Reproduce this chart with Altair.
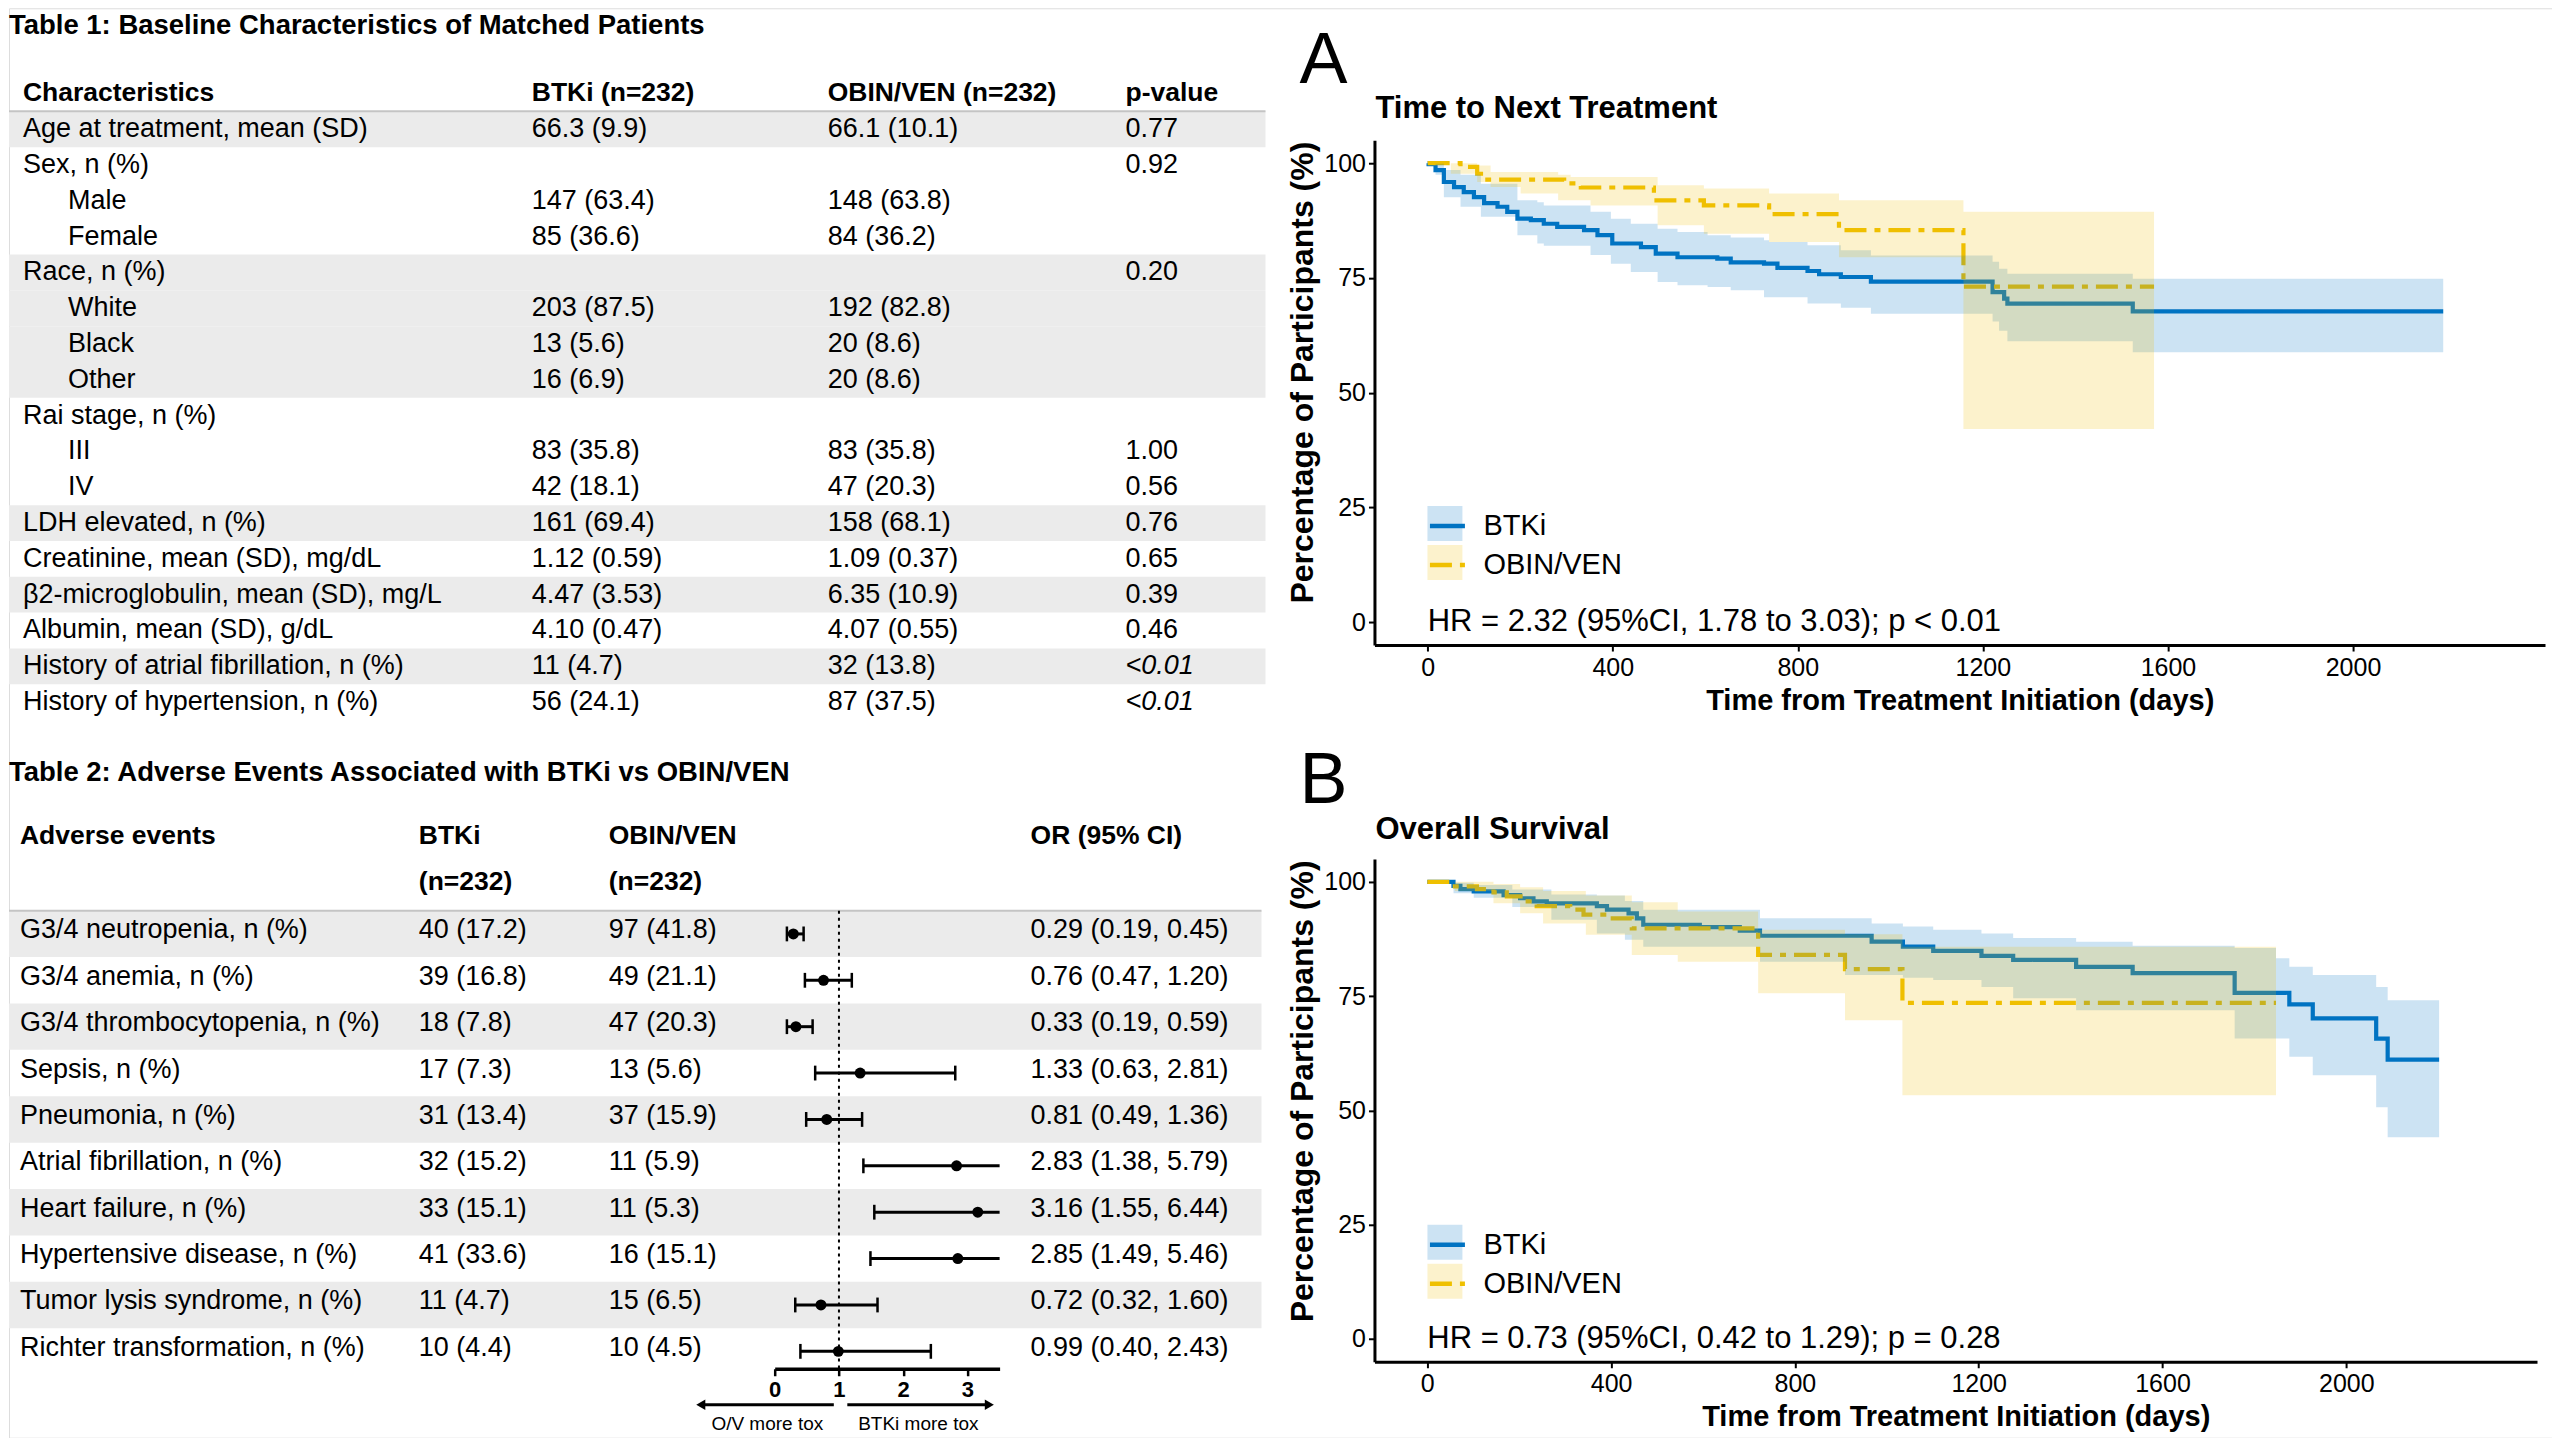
import altair as alt
import pandas as pd

FONT = "Liberation Sans, Arial, Helvetica, sans-serif"
BLUE = "#0073C2"
GOLD = "#EFC000"
SHADE = "#EBEBEB"
GROUPS = ["BTKi", "OBIN/VEN"]

# ---------------- Table 1 ----------------
t1_labels = ["Age at treatment, mean (SD)", "Sex, n (%)", "Male", "Female", "Race, n (%)",
             "White", "Black", "Other", "Rai stage, n (%)", "III", "IV", "LDH elevated, n (%)",
             "Creatinine, mean (SD), mg/dL", "β2-microglobulin, mean (SD), mg/L",
             "Albumin, mean (SD), g/dL", "History of atrial fibrillation, n (%)",
             "History of hypertension, n (%)"]
t1_indent = [0, 0, 1, 1, 0, 1, 1, 1, 0, 1, 1, 0, 0, 0, 0, 0, 0]
t1_btki = ["66.3 (9.9)", "", "147 (63.4)", "85 (36.6)", "", "203 (87.5)", "13 (5.6)", "16 (6.9)",
           "", "83 (35.8)", "42 (18.1)", "161 (69.4)", "1.12 (0.59)", "4.47 (3.53)", "4.10 (0.47)",
           "11 (4.7)", "56 (24.1)"]
t1_obin = ["66.1 (10.1)", "", "148 (63.8)", "84 (36.2)", "", "192 (82.8)", "20 (8.6)", "20 (8.6)",
           "", "83 (35.8)", "47 (20.3)", "158 (68.1)", "1.09 (0.37)", "6.35 (10.9)", "4.07 (0.55)",
           "32 (13.8)", "87 (37.5)"]
t1_p = ["0.77", "0.92", "", "", "0.20", "", "", "", "", "1.00", "0.56", "0.76", "0.65", "0.39",
        "0.46", "<0.01", "<0.01"]
t1_shaded = [1, 0, 0, 0, 1, 1, 1, 1, 0, 0, 0, 1, 0, 1, 0, 1, 0]

# ---------------- Table 2 ----------------
ae_labels = ["G3/4 neutropenia, n (%)", "G3/4 anemia, n (%)", "G3/4 thrombocytopenia, n (%)",
             "Sepsis, n (%)", "Pneumonia, n (%)", "Atrial fibrillation, n (%)",
             "Heart failure, n (%)", "Hypertensive disease, n (%)",
             "Tumor lysis syndrome, n (%)", "Richter transformation, n (%)"]
ae_btki = ["40 (17.2)", "39 (16.8)", "18 (7.8)", "17 (7.3)", "31 (13.4)", "32 (15.2)",
           "33 (15.1)", "41 (33.6)", "11 (4.7)", "10 (4.4)"]
ae_obin = ["97 (41.8)", "49 (21.1)", "47 (20.3)", "13 (5.6)", "37 (15.9)", "11 (5.9)",
           "11 (5.3)", "16 (15.1)", "15 (6.5)", "10 (4.5)"]
or_est = [0.29, 0.76, 0.33, 1.33, 0.81, 2.83, 3.16, 2.85, 0.72, 0.99]
or_lo = [0.19, 0.47, 0.19, 0.63, 0.49, 1.38, 1.55, 1.49, 0.32, 0.40]
or_hi = [0.45, 1.20, 0.59, 2.81, 1.36, 5.79, 6.44, 5.46, 1.60, 2.43]
ae_shaded = [1, 0, 1, 0, 1, 0, 1, 0, 1, 0]
forest_ticks = [0, 1, 2, 3]

# ---------------- KM: Time to next treatment ----------------
A_btki_t = [0, 2, 17, 35, 57, 78, 100, 122, 151, 172, 194, 223, 251, 280, 338, 367, 399, 461, 493,
            540, 626, 655, 727, 756, 821, 846, 893, 958, 1221, 1246, 1253, 1524, 2195]
A_btki_s = [100, 99.8, 98.5, 95.9, 94.8, 93.7, 92.6, 91.3, 90.5, 89.4, 87.9, 87.6, 86.8, 86.1,
            85.4, 84.3, 82.5, 81.7, 80.3, 79.5, 79.2, 78.4, 78.1, 77.2, 76.5, 75.8, 75.2, 74.2,
            71.9, 70.5, 69.4, 67.7, 67.7]
A_btki_bt = [0, 17, 35, 71, 115, 194, 237, 251, 352, 396, 439, 497, 540, 605, 655, 727, 738, 821,
             893, 958, 1221, 1235, 1253, 1524, 2195]
A_btki_lo = [100, 97.5, 92.6, 90.5, 88.3, 84.3, 82.5, 82.0, 80.0, 78.1, 76.3, 74.1, 73.4, 73.0,
             72.3, 70.8, 70.8, 69.4, 68.5, 67.2, 65.5, 63.5, 61.2, 58.8, 58.8]
A_btki_hi = [100, 99.9, 98.5, 97.5, 95.5, 91.9, 91.5, 90.8, 89.4, 87.9, 86.8, 85.7, 85.0, 84.3,
             83.8, 83.2, 82.8, 82.1, 81.0, 79.9, 78.5, 77.0, 75.9, 74.8, 74.8]
A_obin_t = [0, 71, 107, 129, 295, 331, 489, 597, 738, 889, 1158, 1570]
A_obin_s = [100, 99.2, 97.7, 96.4, 95.6, 94.7, 91.9, 90.8, 88.9, 85.4, 73.1, 73.1]
A_obin_bt = [0, 50, 107, 136, 201, 282, 309, 352, 497, 597, 738, 889, 1158, 1570]
A_obin_lo = [100, 97.7, 95.9, 94.8, 93.4, 91.9, 91.9, 90.8, 86.5, 84.6, 82.8, 79.5, 42.1, 42.1]
A_obin_hi = [100, 100, 99.5, 98.1, 98.1, 97.5, 97.0, 97.0, 95.2, 94.5, 93.4, 91.9, 89.4, 89.4]

# ---------------- KM: Overall survival ----------------
B_btki_t = [0, 57, 72, 101, 166, 202, 231, 260, 369, 391, 438, 456, 470, 593, 680, 724, 967,
            1035, 1101, 1206, 1275, 1412, 1535, 1757, 1876, 1927, 2065, 2090, 2202]
B_btki_s = [100, 99.1, 98.4, 97.9, 97.1, 96.4, 95.7, 95.3, 94.7, 93.9, 93.1, 92.0, 90.6, 90.1,
            89.3, 88.2, 86.9, 85.8, 84.9, 83.8, 82.9, 81.4, 80.0, 75.7, 73.2, 70.1, 65.7, 61.1,
            61.1]
B_btki_bt = [0, 46, 57, 101, 185, 270, 369, 430, 470, 724, 909, 967, 1035, 1101, 1206, 1275, 1412,
             1535, 1757, 1847, 1876, 1927, 2065, 2090, 2202]
B_btki_lo = [100, 100, 97.5, 96.5, 94.5, 91.7, 88.7, 87.3, 85.8, 82.5, 79.6, 79.6, 79.0, 78.5,
             77.0, 74.5, 71.9, 71.9, 65.7, 65.7, 61.7, 57.7, 50.7, 44.1, 44.1]
B_btki_hi = [100, 100, 99.8, 99.3, 98.3, 97.2, 97.0, 95.8, 93.9, 92.0, 92.0, 90.9, 90.2, 89.5,
             88.7, 87.7, 86.9, 86.0, 85.5, 83.3, 81.4, 79.6, 77.0, 74.1, 74.1]
B_obin_t = [0, 60, 108, 144, 173, 209, 238, 311, 340, 398, 445, 720, 909, 1034, 1847]
B_obin_s = [100, 99.0, 98.4, 97.7, 96.8, 95.7, 94.7, 93.9, 92.8, 92.0, 89.8, 84.0, 80.9, 73.5,
            73.5]
B_obin_bt = [0, 60, 144, 202, 252, 345, 445, 545, 720, 909, 1034, 1847]
B_obin_lo = [100, 98.0, 95.3, 93.1, 90.9, 88.4, 84.0, 82.5, 75.6, 69.7, 53.3, 53.3]
B_obin_hi = [100, 100, 99.5, 98.8, 98.0, 97.0, 95.5, 93.5, 89.5, 88.5, 85.8, 85.8]

km_ticks_x = [0, 400, 800, 1200, 1600, 2000]
km_ticks_y = [0, 25, 50, 75, 100]
hr_A = "HR = 2.32 (95%CI, 1.78 to 3.03); p < 0.01"
hr_B = "HR = 0.73 (95%CI, 0.42 to 1.29); p = 0.28"

# ---------------- layout helpers ----------------
W, H = 2544, 1430


def sc(domain, rng):
    return alt.Scale(domain=domain, range=rng, nice=False, zero=False)


T1 = sc([0, 16], [121, 694.1])
T2 = sc([0, 9], [926, 1343.6])
FX = sc([0, 3.5], [766, 991])
AX = sc([-115, 2415], [1366, 2537])
AY = sc([-5, 105], [637, 132])
BX = sc([-115, 2415], [1366, 2529])
BY = sc([-5, 105], [1354, 851])

t1 = pd.DataFrame({"label": t1_labels, "indent": t1_indent, "btki": t1_btki, "obin": t1_obin,
                   "p": t1_p, "shaded": t1_shaded})
t1["row"] = range(len(t1))
t2 = pd.DataFrame({"label": ae_labels, "btki": ae_btki, "obin": ae_obin, "est": or_est,
                   "lo": or_lo, "hi": or_hi, "shaded": ae_shaded})
t2["row"] = range(len(t2))
t2["ortext"] = [f"{e:.2f} ({l:.2f}, {h:.2f})" for e, l, h in zip(or_est, or_lo, or_hi)]

layers = []


def band_layer(df, yscale, x2px):
    return alt.Chart(df).transform_filter("datum.shaded == 1").transform_calculate(
        y0="datum.row - 0.5", y1="datum.row + 0.5"
    ).mark_rect(color=SHADE).encode(
        x=alt.value(0), x2=alt.value(x2px),
        y=alt.Y("y0:Q", scale=yscale, axis=None), y2="y1:Q")


def col_text(df, field, xpx, yscale, filt=None, size=27, style="normal", dy=0):
    ch = alt.Chart(df)
    if filt:
        ch = ch.transform_filter(filt)
    return ch.mark_text(align="left", baseline="middle", font=FONT, fontSize=size,
                        fontStyle=style, color="black", dy=dy).encode(
        x=alt.value(xpx), y=alt.Y("row:Q", scale=yscale, axis=None), text="%s:N" % field)


def fixed_text(s, xpx, yrow, yscale, size, weight="bold", align="left"):
    return alt.Chart(pd.DataFrame({"t": [s]})).mark_text(
        align=align, baseline="middle", font=FONT, fontSize=size, fontWeight=weight,
        color="black").encode(
        x=alt.value(xpx),
        y=alt.YDatum(yrow, scale=yscale, axis=None, type="quantitative"),
        text="t:N")


def hline(yrow, yscale, x2px):
    return alt.Chart(pd.DataFrame({"t": [0]})).mark_rule(color="#C4C4C4", strokeWidth=2).encode(
        x=alt.value(0), x2=alt.value(x2px),
        y=alt.YDatum(yrow, scale=yscale, axis=None, type="quantitative"))


# ---- Table 1
layers.append(band_layer(t1, T1, 1257))
layers.append(hline(-0.5, T1, 1257))
layers.append(fixed_text("Table 1: Baseline Characteristics of Matched Patients", 0, -2.87, T1, 27.5))
for s, xp in [("Characteristics", 14), ("BTKi (n=232)", 523), ("OBIN/VEN (n=232)", 819),
              ("p-value", 1117)]:
    layers.append(fixed_text(s, xp, -1.0, T1, 26.5))
layers.append(col_text(t1, "label", 14, T1, "datum.indent == 0"))
layers.append(col_text(t1, "label", 59, T1, "datum.indent == 1"))
layers.append(col_text(t1, "btki", 523, T1))
layers.append(col_text(t1, "obin", 819, T1))
layers.append(col_text(t1, "p", 1117, T1, "indexof(datum.p, '<') < 0"))
layers.append(col_text(t1, "p", 1117, T1, "indexof(datum.p, '<') >= 0", style="italic"))

# ---- Table 2
layers.append(band_layer(t2, T2, 1253))
layers.append(hline(-0.5, T2, 1253))
layers.append(fixed_text("Table 2: Adverse Events Associated with BTKi vs OBIN/VEN", 0, -3.48, T2, 27.5))
for s, xp, r in [("Adverse events", 11, -2.11), ("BTKi", 410, -2.11), ("OBIN/VEN", 600, -2.11),
                 ("OR (95% CI)", 1022, -2.11), ("(n=232)", 410, -1.13), ("(n=232)", 600, -1.13)]:
    layers.append(fixed_text(s, xp, r, T2, 26.5))
layers.append(col_text(t2, "label", 11, T2, dy=-3.5))
layers.append(col_text(t2, "btki", 410, T2, dy=-3.5))
layers.append(col_text(t2, "obin", 600, T2, dy=-3.5))
layers.append(col_text(t2, "ortext", 1022, T2, dy=-3.5))

# ---- Forest plot
AXIS_Y_FOREST = 1361
layers.append(alt.Chart(pd.DataFrame({"t": [0]})).mark_rule(
    color="black", strokeWidth=2, strokeDash=[3, 4]).encode(
    x=alt.XDatum(1, scale=FX, axis=None, type="quantitative"),
    y=alt.YDatum(-0.5, scale=T2, axis=None, type="quantitative"),
    y2=alt.value(AXIS_Y_FOREST)))
forest = alt.Chart(t2).transform_calculate(
    hic="min(datum.hi, 3.5)", ya="datum.row - 0.16", yb="datum.row + 0.16")
layers.append(forest.mark_rule(color="black", strokeWidth=3).encode(
    x=alt.X("lo:Q", scale=FX, axis=alt.Axis(
        orient="bottom", offset=AXIS_Y_FOREST - H, values=forest_ticks, title=None, grid=False,
        domainColor="black", domainWidth=3.5, tickColor="black", tickWidth=2.5, tickSize=7,
        labelFont=FONT, labelFontSize=22, labelFontWeight="bold", labelColor="black",
        labelPadding=4, labelFlush=False)),
    x2="hic:Q",
    y=alt.Y("row:Q", scale=T2, axis=None)))
layers.append(forest.mark_rule(color="black", strokeWidth=2.5).encode(
    x=alt.X("lo:Q", scale=FX, axis=None),
    y=alt.Y("ya:Q", scale=T2, axis=None), y2="yb:Q"))
layers.append(forest.transform_filter("datum.hi <= 3.5").mark_rule(color="black", strokeWidth=2.5).encode(
    x=alt.X("hi:Q", scale=FX, axis=None),
    y=alt.Y("ya:Q", scale=T2, axis=None), y2="yb:Q"))
layers.append(alt.Chart(t2).mark_point(filled=True, size=120, color="black", opacity=1).encode(
    x=alt.X("est:Q", scale=FX, axis=None),
    y=alt.Y("row:Q", scale=T2, axis=None)))
# direction arrows under the forest axis
ARROW_Y = 1397
for xa, xb, tip, shape, lab in [(-1.15, 0.92, -1.15, "triangle-left", "O/V more tox"),
                                (1.13, 3.34, 3.34, "triangle-right", "BTKi more tox")]:
    one = alt.Chart(pd.DataFrame({"t": [0]}))
    layers.append(one.mark_rule(color="black", strokeWidth=3).encode(
        x=alt.XDatum(xa, scale=FX, axis=None, type="quantitative"),
        x2=alt.X2Datum(xb), y=alt.value(ARROW_Y)))
    layers.append(one.mark_point(shape=shape, filled=True, size=110, color="black", opacity=1).encode(
        x=alt.XDatum(tip, scale=FX, axis=None, type="quantitative"), y=alt.value(ARROW_Y)))
    layers.append(one.mark_text(align="center", baseline="middle", font=FONT, fontSize=19,
                                color="black").encode(
        x=alt.XDatum((xa + xb) / 2, scale=FX, axis=None, type="quantitative"),
        y=alt.value(ARROW_Y + 19), text=alt.value(lab)))


# ---- KM panels
def km_frames(bt, bs, ot, os_, bbt, blo, bhi, obt, olo, ohi):
    line = pd.DataFrame({"t": bt + ot, "s": bs + os_,
                         "g": ["BTKi"] * len(bt) + ["OBIN/VEN"] * len(ot)})
    band = pd.DataFrame({"t": bbt + obt, "lo": blo + olo, "hi": bhi + ohi,
                         "g": ["BTKi"] * len(bbt) + ["OBIN/VEN"] * len(obt)})
    return line, band


def km_layers(line, band, xs, ys, x_axis_px, ytitle_y, leg_y, hr, title, title_y, letter, letter_y):
    out = []
    leg_common = dict(orient="none", legendX=1419, legendY=leg_y, title=None, symbolSize=1225,
                      labelFont=FONT, labelFontSize=29, labelColor="black", rowPadding=4,
                      padding=0, labelOffset=16)
    leg_line = alt.Legend(symbolType="stroke", symbolStrokeWidth=4.5, zindex=2, **leg_common)
    leg_band = alt.Legend(symbolType="square", symbolOpacity=0.2, symbolStrokeWidth=0,
                          labelOpacity=0, zindex=1, **leg_common)
    out.append(alt.Chart(line).mark_line(interpolate="step-after", strokeWidth=4.2).encode(
        x=alt.X("t:Q", scale=xs, axis=alt.Axis(
            orient="bottom", offset=x_axis_px - H, values=km_ticks_x, format="d",
            title="Time from Treatment Initiation (days)", grid=False,
            domainColor="black", domainWidth=3, tickColor="black", tickWidth=2, tickSize=6,
            labelFont=FONT, labelFontSize=25, labelColor="black", labelPadding=4,
            labelFlush=False, titleFont=FONT, titleFontSize=29, titleFontWeight="bold",
            titleColor="black", titlePadding=6)),
        y=alt.Y("s:Q", scale=ys, axis=alt.Axis(
            orient="left", offset=-1366, values=km_ticks_y, format="d",
            title="Percentage of Participants (%)", grid=False,
            domainColor="black", domainWidth=3, tickColor="black", tickWidth=2, tickSize=6,
            labelFont=FONT, labelFontSize=25, labelColor="black", labelPadding=3,
            titleFont=FONT, titleFontSize=32, titleFontWeight="bold", titleColor="black",
            titlePadding=4, titleY=ytitle_y)),
        stroke=alt.Stroke("g:N", scale=alt.Scale(domain=GROUPS, range=[BLUE, GOLD]),
                          legend=leg_line),
        strokeDash=alt.StrokeDash("g:N", scale=alt.Scale(domain=GROUPS,
                                                         range=[[1, 0], [22, 8, 6, 8]]),
                                  legend=leg_line)))
    out.append(alt.Chart(band).mark_area(interpolate="step-after", fillOpacity=0.2).encode(
        x=alt.X("t:Q", scale=xs, axis=None),
        y=alt.Y("lo:Q", scale=ys, axis=None, stack=None), y2="hi:Q",
        fill=alt.Fill("g:N", scale=alt.Scale(domain=GROUPS, range=[BLUE, GOLD]),
                      legend=leg_band)))
    out.append(alt.Chart(pd.DataFrame({"t": [0], "s": [0], "txt": [hr]})).mark_text(
        align="left", baseline="middle", font=FONT, fontSize=31, color="black").encode(
        x=alt.X("t:Q", scale=xs, axis=None), y=alt.Y("s:Q", scale=ys, axis=None),
        text="txt:N"))
    one = alt.Chart(pd.DataFrame({"t": [0]}))
    out.append(one.mark_text(align="left", baseline="middle", font=FONT, fontSize=31,
                             fontWeight="bold", color="black").encode(
        x=alt.value(1367), y=alt.value(title_y), text=alt.value(title)))
    out.append(one.mark_text(align="left", baseline="alphabetic", font=FONT, fontSize=72,
                             color="black").encode(
        x=alt.value(1291), y=alt.value(letter_y), text=alt.value(letter)))
    return out


lineA, bandA = km_frames(A_btki_t, A_btki_s, A_obin_t, A_obin_s,
                         A_btki_bt, A_btki_lo, A_btki_hi, A_obin_bt, A_obin_lo, A_obin_hi)
lineB, bandB = km_frames(B_btki_t, B_btki_s, B_obin_t, B_obin_s,
                         B_btki_bt, B_btki_lo, B_btki_hi, B_obin_bt, B_obin_lo, B_obin_hi)
layers += km_layers(lineA, bandA, AX, AY, 637, 364, 498, hr_A, "Time to Next Treatment", 101, "A", 75)
layers += km_layers(lineB, bandB, BX, BY, 1354, 1083, 1217, hr_B, "Overall Survival", 822, "B", 795)

chart = alt.layer(*layers).resolve_scale(
    x="independent", y="independent", stroke="independent", strokeDash="independent",
    fill="independent"
).properties(width=W, height=H, padding=0, background="white").configure_view(
    stroke="transparent", strokeWidth=0).configure(font=FONT)

chart.save("out.html", embed_options={"renderer": "svg", "actions": False})
